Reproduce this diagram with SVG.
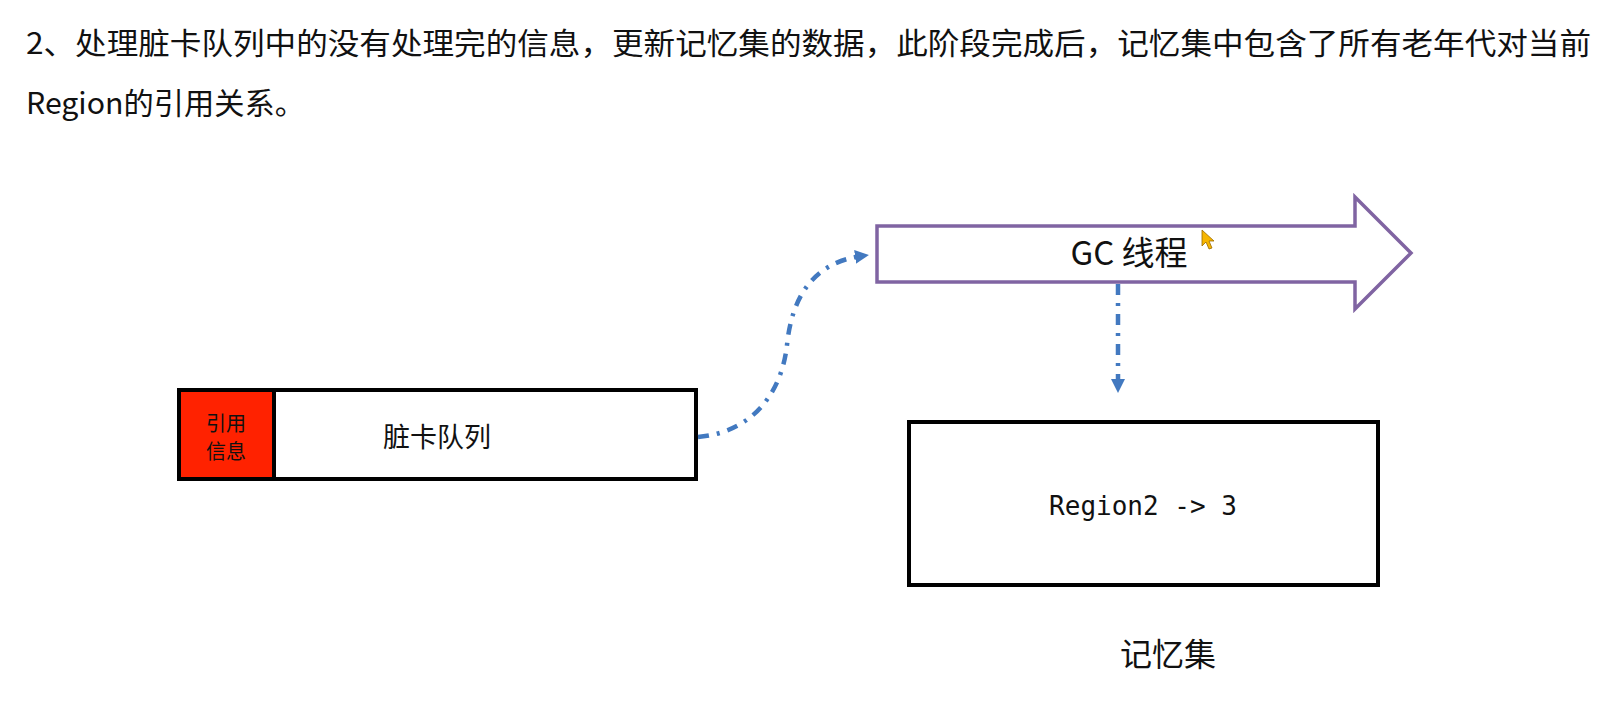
<svg xmlns="http://www.w3.org/2000/svg" width="1620" height="704" viewBox="0 0 1620 704">
<style>
.title{font-family:"Noto Sans CJK SC","Noto Sans",sans-serif;font-size:30px;fill:#111;}
.lbl{font-family:"Noto Sans CJK SC","Noto Sans",sans-serif;fill:#111;text-anchor:middle;}
.mono{font-family:"DejaVu Sans Mono","Liberation Mono",monospace;font-size:26px;fill:#111;text-anchor:middle;}
.box{fill:#fff;stroke:#000;stroke-width:4;}
.conn{fill:none;stroke:#4279C0;stroke-width:4.5;stroke-dasharray:11 8 3 8;}
</style>
<defs>
<marker id="ah2" markerWidth="14" markerHeight="14" refX="7" refY="7" orient="auto" markerUnits="userSpaceOnUse">
<path d="M0,0 L14,7 L0,14 z" fill="#4279C0"/>
</marker>
</defs>
<rect width="1620" height="704" fill="#fff"/>
<g id="title">
<text class="title" x="26" y="54" textLength="1565" lengthAdjust="spacingAndGlyphs">2、处理脏卡队列中的没有处理完的信息，更新记忆集的数据，此阶段完成后，记忆集中包含了所有老年代对当前</text>
<text class="title" x="26" y="114" textLength="279" lengthAdjust="spacingAndGlyphs">Region的引用关系。</text>
</g>
<g id="dirty-card-queue">
<rect class="box" x="179" y="390" width="517" height="89"/>
<rect x="181" y="392" width="92" height="85" fill="#FF2200"/>
<line x1="274" y1="390" x2="274" y2="479" stroke="#000" stroke-width="4"/>
<text class="lbl" x="226" y="431" font-size="20">引用</text>
<text class="lbl" x="226" y="459" font-size="20">信息</text>
<text class="lbl" x="437" y="447" font-size="27">脏卡队列</text>
</g>
<g id="gc-thread">
<path d="M877,226 L1355,226 L1355,197 L1411,253 L1355,309 L1355,282 L877,282 Z" fill="#fff" stroke="#8064A2" stroke-width="3.5"/>
<text class="lbl" x="1129" y="265" font-size="33">GC 线程</text>
<path d="M1202,230 L1202,246 L1206,242 L1209,249 L1212,248 L1209,241 L1214,241 Z" fill="#F6B500" stroke="#9a6a00" stroke-width="0.8"/>
</g>
<g id="remembered-set">
<rect class="box" x="909" y="422" width="469" height="163"/>
<text class="mono" x="1143" y="515">Region2 -&gt; 3</text>
<text class="lbl" x="1168" y="666" font-size="32">记忆集</text>
</g>
<g id="connectors">
<path class="conn" d="M698,437 C755,432 782,390 787,345 C792,295 815,262 862,256" marker-end="url(#ah2)"/>
<path class="conn" d="M1118,284 L1118,386" marker-end="url(#ah2)"/>
</g>
</svg>
